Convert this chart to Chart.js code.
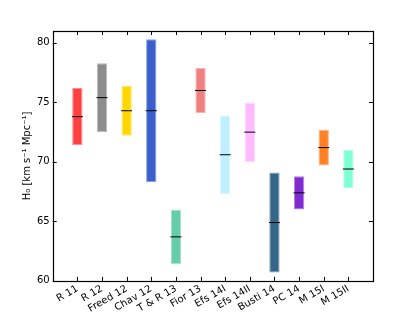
<!DOCTYPE html>
<html>
<head>
<meta charset="utf-8">
<script src="https://cdn.jsdelivr.net/npm/chart.js@4"></script>
<style>
  html, body { margin: 0; padding: 0; background: #fff; }
  #wrap { width: 415px; height: 313px; }
</style>
</head>
<body>
<div id="wrap"><canvas id="h0-chart"></canvas></div>
<script>
// Data
const labels = ["R 11", "R 12", "Freed 12", "Chav 12", "T & R 13", "Fior 13", "Efs 14I", "Efs 14II", "Busti 14", "PC 14", "M 15I", "M 15II"];
const h0Values = [73.8, 75.4, 74.3, 74.3, 63.7, 76.0, 70.6, 72.5, 64.9, 67.4, 71.2, 69.4];
const h0Low = [71.4, 72.5, 72.2, 68.3, 61.4, 74.1, 67.3, 70.0, 60.7, 66.0, 69.7, 67.8];
const h0High = [76.2, 78.3, 76.4, 80.3, 66.0, 77.9, 73.9, 75.0, 69.1, 68.8, 72.7, 71.0];
const barColors = ["#ff4040", "#8c8c8c", "#ffd700", "#3a5fcd", "#66cdaa", "#f08080", "#c0f0ff", "#ffbbff", "#336688", "#7f2bd2", "#ff8025", "#7fffd4"];
const yTicks = [60, 65, 70, 75, 80];

// padding category at each end so the x range runs 0..13
const axisLabels = [""].concat(labels, [""]);
const ranges = [null].concat(labels.map((l, i) => [h0Low[i], h0High[i]]), [null]);
const medians = [null].concat(h0Values, [null]);
const colors = ["#fff"].concat(barColors, ["#fff"]);

const frame = {
    id: "frame",
    afterDatasetsDraw(chart) {
        const ctx = chart.ctx;
        const a = chart.chartArea;
        const x = chart.scales.x;
        const y = chart.scales.y;
        ctx.save();
        ctx.strokeStyle = "#000";
        ctx.lineWidth = 1;
        ctx.beginPath();
        for (let i = 1; i < axisLabels.length - 1; i++) {
            const px = Math.round(x.getPixelForTick(i)) + 0.5;
            ctx.moveTo(px, a.bottom); ctx.lineTo(px, a.bottom - 4);
            ctx.moveTo(px, a.top); ctx.lineTo(px, a.top + 4);
        }
        for (let v of yTicks) {
            const py = Math.round(y.getPixelForValue(v)) + 0.5;
            ctx.moveTo(a.left, py); ctx.lineTo(a.left + 4, py);
            ctx.moveTo(a.right, py); ctx.lineTo(a.right - 4, py);
        }
        ctx.stroke();
        ctx.lineWidth = 1.2;
        ctx.strokeRect(Math.round(a.left) + 0.5, Math.round(a.top) + 0.5, Math.round(a.right - a.left), Math.round(a.bottom - a.top));
        ctx.restore();
    }
};

Chart.defaults.font.family = "'DejaVu Sans', sans-serif";
Chart.defaults.font.size = 10;
Chart.defaults.color = "#000";

new Chart(document.getElementById("h0-chart"), {
    data: {
        labels: axisLabels,
        datasets: [{
            type: "bar",
            data: ranges,
            backgroundColor: colors,
            borderColor: colors.map(c => c + "99"),
            borderWidth: 1,
            borderSkipped: false,
            barPercentage: 0.42,
            categoryPercentage: 1,
            order: 2
        }, {
            type: "line",
            data: medians,
            showLine: false,
            pointStyle: "line",
            pointRadius: 5.5,
            pointHoverRadius: 5.5,
            pointBorderColor: "#000",
            pointBorderWidth: 1,
            order: 1
        }]
    },
    options: {
        responsive: true,
        maintainAspectRatio: false,
        animation: false,
        layout: { padding: { left: 21, right: 42, top: 31, bottom: -4 } },
        plugins: {
            legend: { display: false },
            tooltip: { enabled: false }
        },
        scales: {
            x: {
                type: "category",
                offset: false,
                grid: { display: false, drawTicks: false },
                border: { display: false },
                ticks: { autoSkip: false, minRotation: 30, maxRotation: 30, padding: 2 }
            },
            y: {
                min: 60,
                max: 81,
                grid: { display: false, drawTicks: false },
                border: { display: false },
                afterBuildTicks: s => { s.ticks = yTicks.map(v => ({ value: v })); },
                ticks: { padding: 3 },
                title: { display: true, text: "H₀ [km s⁻¹ Mpc⁻¹]", padding: { top: 0, bottom: 1 } }
            }
        }
    },
    plugins: [frame]
});
</script>
</body>
</html>
